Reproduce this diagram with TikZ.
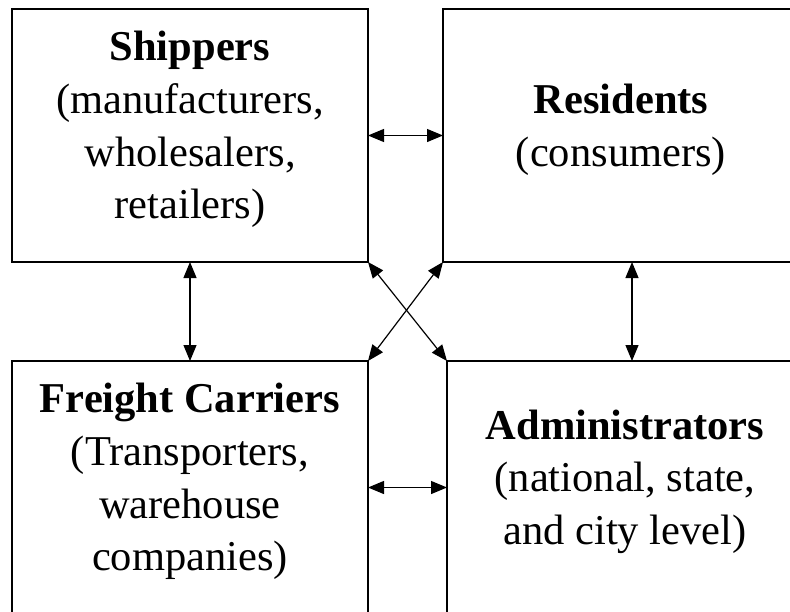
\documentclass[tikz,border=0pt]{standalone}
\usepackage{fontspec}
\setmainfont{Liberation Serif}
\usetikzlibrary{arrows.meta, positioning}

\begin{document}
\begin{tikzpicture}[x=1pt, y=-1pt,
    actor/.style={draw, line width=2.2pt, inner sep=0pt, outer sep=0pt,
      minimum width=356pt, minimum height=253pt, align=center,
      text depth=21pt, font=\fontsize{42.5}{52.7}\selectfont},
    link/.style={line width=1.2pt, {Triangle[length=16pt,width=13pt]}-{Triangle[length=16pt,width=13pt]}}]
    \useasboundingbox (0,0) rectangle (790,611);
    % top row
    \node[actor] (ship) at (190,135.5)
      {\textbf{Shippers}\\(manufacturers,\\wholesalers,\\retailers)};
    \node[actor] (res) at (621,135.5)
      {\textbf{Residents}\\(consumers)};
    % bottom row, cut off below
    \node[actor] (fc) at (190,487.5)
      {\textbf{Freight Carriers}\\(Transporters,\\warehouse\\companies)};
    \node[actor] (adm) at (625,487.5)
      {\textbf{Administrators}\\(national, state,\\and city level)};
    \coordinate (rx) at (632,0);
    % links
    \draw[link] (ship.east) -- (res.west);
    \draw[link] (fc.east) -- (adm.west);
    \draw[link] (ship.south) -- (fc.north);
    \draw[link] (res.south -| rx) -- (adm.north -| rx);
    \draw[link] (ship.south east) -- (adm.north west);
    \draw[link] (res.south west) -- (fc.north east);
\end{tikzpicture}
\end{document}
